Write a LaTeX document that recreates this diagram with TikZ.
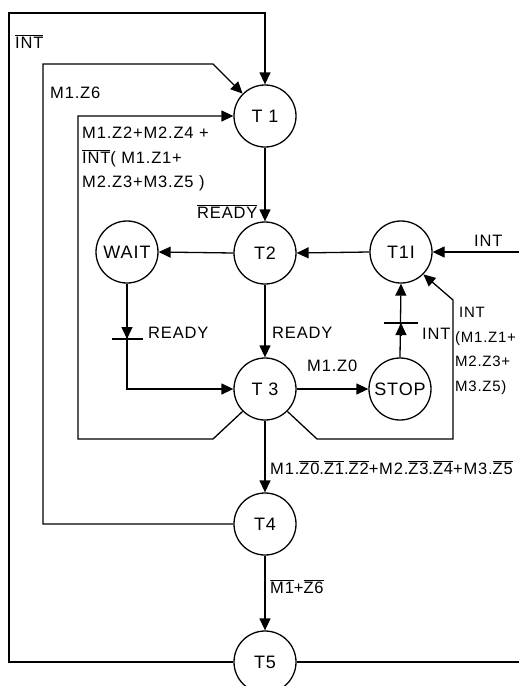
\documentclass[tikz,border=0pt]{standalone}
\usepackage{fontspec}
\setmainfont[LetterSpace=5]{Liberation Sans}
\usetikzlibrary{arrows.meta,calc}
\newcommand\ovl[1]{$\overline{\mbox{#1}}$}
\begin{document}
\begin{tikzpicture}[x=1pt,y=-1pt,
  st/.style={circle,draw,line width=1.3pt,minimum size=62pt,inner sep=0pt,font=\fontsize{18}{20}\selectfont},
  ln/.style={line width=1.3pt},
  arr/.style={ln,-{Triangle[length=12pt,width=11pt]}},
  lab/.style={inner sep=0pt,font=\fontsize{16.5}{24.5}\selectfont,align=left}]
\clip (0,0) rectangle (519,686);
\fill[white] (0,0) rectangle (519,686);
% states
\node[st] (T1) at (265,116) {T 1};
\node[st] (T2) at (265,253) {T2};
\node[st] (T3) at (265,389) {T 3};
\node[st] (T4) at (265,524) {T4};
\node[st] (T5) at (265,662) {T5};
\node[st] (WAIT) at (127,252) {WAIT};
\node[st] (T11) at (401,252) {T1I};
\node[st] (STOP) at (400,389) {STOP};
% helper coordinates
\coordinate (topL) at (9,13);
\coordinate (m6) at (43,64);
\coordinate (m6b) at (213,64);
\coordinate (lb) at (213,439);
\coordinate (lt) at (78,116);
\coordinate (rb) at (317,439);
\coordinate (rt) at (453,300);
\coordinate (inR) at (519,252);
\coordinate (outR) at (519,662);
\coordinate (wt) at (127,339);
\coordinate (st) at (401,323);
% connectors
\draw[arr] (T5.west) -| (topL) -| (T1.north);
\draw[arr] (T4.west) -| (m6) -- (m6b) -- (T1.135);
\draw[arr] (T3.225) -- (lb) -| (lt) -- (T1.west);
\draw[arr] (T3.-45) -- (rb) -| (rt) -- (T11.-45);
\draw[arr] (T1.south) -- (T2.north);
\draw[arr] (T2.west) -- (WAIT.east);
\draw[arr] (T11.west) -- (T2.east);
\draw[arr] (inR) -- (T11.east);
\draw[arr] (T2.south) -- (T3.north);
\draw[arr] (WAIT.south) |- (T3.west);
\draw[arr] (T3.east) -- (STOP.west);
\draw[arr] (STOP.north) -- (T11.south);
\draw[arr] (T3.south) -- (T4.north);
\draw[arr] (T4.south) -- (T5.north);
\draw[ln] (T5.east) -- (outR);
% ticks with arrows
\draw[arr] ($(wt)+(0,-13)$) -- (wt);
\draw[ln] ($(wt)+(-15,0)$) -- ($(wt)+(16,0)$);
\draw[arr] ($(st)+(0,13)$) -- (st);
\draw[ln] ($(st)+(-17,0)$) -- ($(st)+(17,0)$);
% labels
\node[lab,anchor=base west] (l1) at (15,48) {\ovl{INT}};
\node[lab,anchor=base west] (l2) at (50,98) {M1.Z6};
\node[lab,anchor=north west] (l3) at (82,127) {M1.Z2+M2.Z4 +\\\ovl{INT}( M1.Z1+\\M2.Z3+M3.Z5 )};
\node[lab,anchor=base west] (l4) at (197,218) {\ovl{READY}};
\node[lab,anchor=base west] (l5) at (148,338) {READY};
\node[lab,anchor=base west] (l6) at (272,338) {READY};
\node[lab,anchor=base west] (l7) at (307,371) {M1.Z0};
\node[lab,anchor=base west] (l8) at (422,339) {INT};
\node[lab,anchor=base west] (l9) at (474,246) {INT};
\node[lab,anchor=north west,font=\fontsize{15}{24.5}\selectfont] (l10) at (455,307) {\hspace{4pt}INT\\(M1.Z1+\\M2.Z3+\\M3.Z5)};
\node[lab,anchor=base west] (l11) at (270,474) {M1.\ovl{Z0}.\ovl{Z1}.\ovl{Z2}+M2.\ovl{Z3}.\ovl{Z4}+M3.\ovl{Z5}};
\node[lab,anchor=base west] (l12) at (270,593) {\ovl{M1}+\ovl{Z6}};
\end{tikzpicture}
\end{document}
